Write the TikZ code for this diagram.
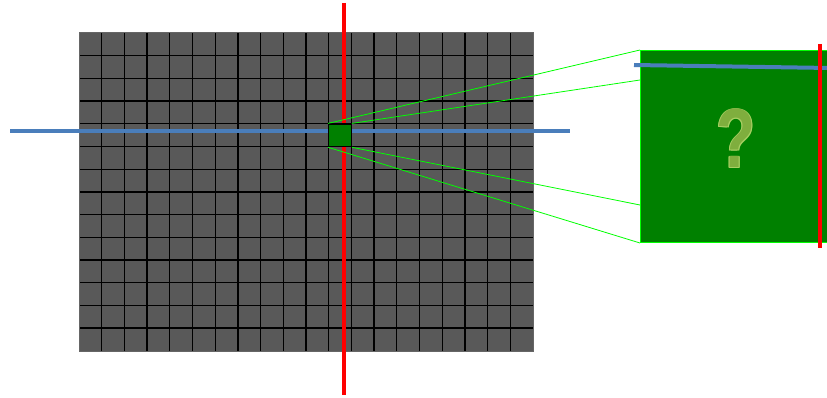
\documentclass[tikz,border=0pt]{standalone}
\usepackage{fontspec}
\newfontfamily\qfont{Liberation Sans}
\definecolor{cellgray}{HTML}{595959}
\definecolor{zgreen}{HTML}{008000}
\definecolor{lgreen}{HTML}{00FF00}
\definecolor{axblue}{HTML}{4A7EBB}
\definecolor{axred}{HTML}{FF0000}
\definecolor{qgreen}{HTML}{7FAE3E}
\definecolor{qedge}{HTML}{A9CF63}
\tikzset{
  gridline/.style={black, line width=1.3pt},
  blueaxis/.style={axblue, line width=4pt},
  redaxis/.style={axred, line width=4pt},
  zoomline/.style={lgreen, line width=0.8pt},
  zoomsq/.style={fill=zgreen, draw=black, line width=1.2pt, minimum size=22.7pt, inner sep=0pt},
  bigbox/.style={fill=zgreen, draw=lgreen, line width=1pt, minimum width=200pt, minimum height=192pt, inner sep=0pt, anchor=north west},
  qmark/.style={anchor=base, inner sep=0pt, xscale=0.76, font=\qfont\bfseries\fontsize{84}{84}\selectfont}
}
\begin{document}
\begin{tikzpicture}[x=1pt,y=-1pt]
\clip (0,0) rectangle (827,398);
\fill[white] (0,0) rectangle (827,398);
% grid
\fill[cellgray] (79,33) rectangle (533,351);
\foreach \i in {1,...,19} \draw[gridline] ({79+\i*22.7},33) -- ({79+\i*22.7},351);
\foreach \j in {1,...,13} \draw[gridline] (79,{33+\j*22.7}) -- (533,{33+\j*22.7});
\draw[gray!80!black, line width=1pt] (79,33) rectangle (533,351);
% axes
\coordinate (bl) at (10,131);
\coordinate (br) at (570,131);
\coordinate (rt) at (343.5,3);
\coordinate (rb) at (343.5,395);
\draw[blueaxis] (bl) -- (br);
\draw[redaxis] (rt) -- (rb);
% zoomed cell
\node[zoomsq] (zs) at (340.05,135.35) {};
% magnified box
\node[bigbox] (big) at (640,50) {};
\coordinate (b2) at (640,80);
\coordinate (b3) at (640,205);
\draw[zoomline] (zs.north west) -- (big.north west);
\draw[zoomline] (zs.north east) -- (b2);
\draw[zoomline] (zs.south east) -- (b3);
\draw[zoomline] (zs.south west) -- (big.south west);
% axes in magnified box
\coordinate (mbl) at (634,65);
\coordinate (mbr) at (830,68);
\coordinate (mrt) at (820,44);
\coordinate (mrb) at (820,248);
\draw[blueaxis] (mbl) -- (mbr);
\draw[redaxis] (mrt) -- (mrb);
% question mark with light edge
\foreach \dx/\dy in {-0.8/-0.8,0.8/-0.8,-0.8/0.8,0.8/0.8}
  \node[qmark, text=qedge] at (736+\dx,168+\dy) {?};
\node[qmark, text=qgreen] (q) at (736,168) {?};
\end{tikzpicture}
\end{document}
